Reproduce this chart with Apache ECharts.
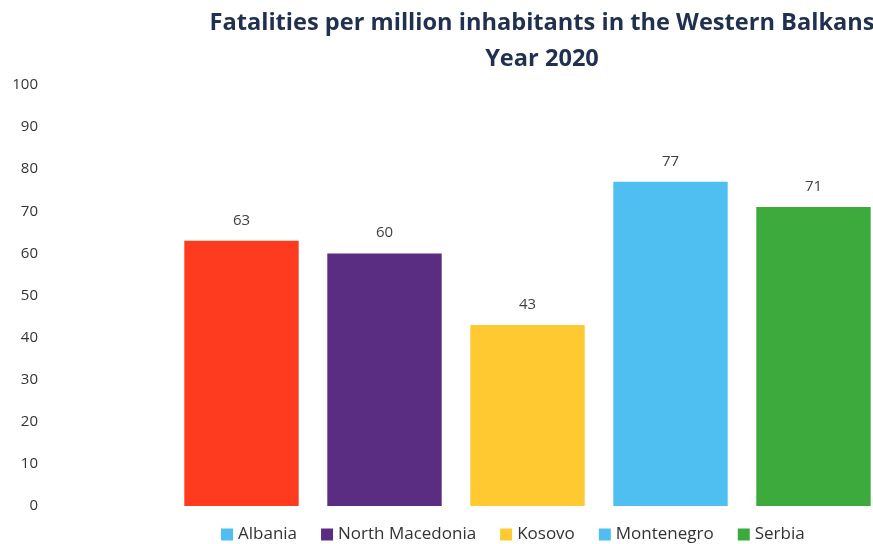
<!DOCTYPE html>
<html>
<head>
<meta charset="utf-8">
<script src="https://cdn.jsdelivr.net/npm/echarts@6/dist/echarts.min.js"></script>
<style>html,body{margin:0;padding:0;background:#fff;overflow:hidden;width:873px;height:544px}#c{width:885px;height:544px}</style>
</head>
<body>
<div id="c"></div>
<script>
const categories = ['Albania', 'North Macedonia', 'Kosovo', 'Montenegro', 'Serbia'];
const values = [63, 60, 43, 77, 71];
const barColors = ['#ff3b1f', '#5a2d82', '#ffc932', '#4fbff2', '#3daa3d'];
const legendColors = ['#4fbff2', '#5a2d82', '#ffc932', '#4fbff2', '#3daa3d'];
const titleLines = ['Fatalities per million inhabitants in the Western Balkans', 'Year 2020'];

const chart = echarts.init(document.getElementById('c'));
const series = categories.map((name, i) => ({
  name: name,
  type: 'bar',
  stack: 'all',
  barWidth: '80%',
  data: categories.map((c, j) => j === i ? values[i] : '-'),
  itemStyle: { color: barColors[i] },
  label: {
    show: true, position: 'top', distance: 13,
    color: '#404040', fontSize: 15, fontFamily: 'Open Sans'
  }
}));

chart.setOption({
  animation: false,
  title: {
    text: titleLines.join('\n'),
    left: 537, textAlign: 'center', top: 0,
    textStyle: {
      fontFamily: 'Open Sans', fontWeight: 'bold', fontSize: 23.6,
      color: '#1f3050', lineHeight: 36
    }
  },
  legend: {
    top: 521, left: 216,
    itemWidth: 12, itemHeight: 12, itemGap: 24, icon: 'rect',
    textStyle: { fontFamily: 'Open Sans', fontSize: 17, color: '#333' },
    data: categories.map((c, i) => ({ name: c, itemStyle: { color: legendColors[i] } }))
  },
  grid: { left: 170, right: 0, top: 85, bottom: 38, containLabel: false },
  xAxis: {
    type: 'category', data: categories,
    axisLine: { show: false }, axisTick: { show: false }, axisLabel: { show: false }
  },
  yAxis: {
    type: 'value', min: 0, max: 100, interval: 10,
    splitLine: { show: false }, axisLine: { show: false }, axisTick: { show: false },
    axisLabel: { margin: 132, color: '#333', fontSize: 15, fontFamily: 'Open Sans' }
  },
  series: series
});
</script>
</body>
</html>
